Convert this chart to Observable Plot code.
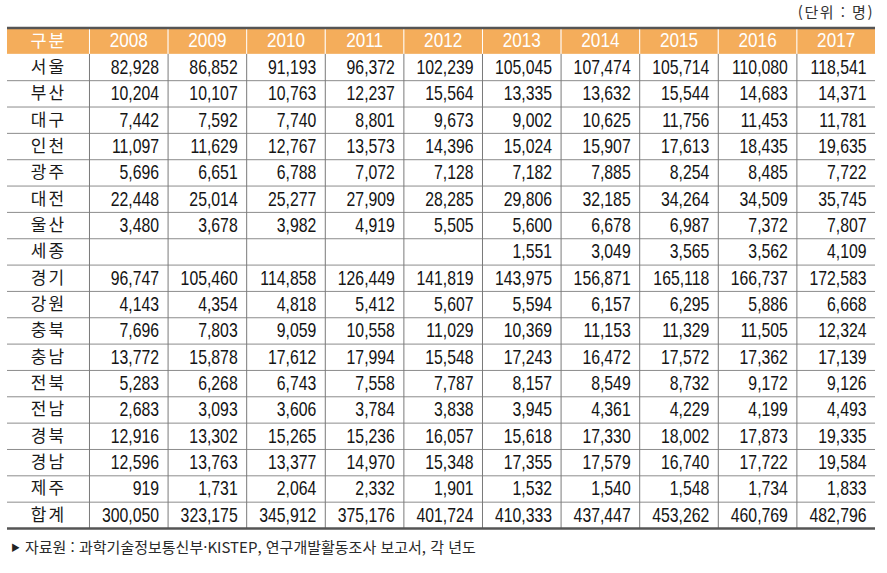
<!DOCTYPE html>
<html lang="ko">
<head>
<meta charset="utf-8">
<script src="https://cdn.jsdelivr.net/npm/d3@7"></script>
<script src="https://cdn.jsdelivr.net/npm/@observablehq/plot@0.6"></script>
<style>
  html, body { margin: 0; padding: 0; background: #fff; }
  #wrap { width: 887px; }
  #unit { height: 26px; line-height: 24px; text-align: right; padding-right: 13px; letter-spacing: 1.5px;
          font-family: "Noto Sans CJK KR", sans-serif; font-size: 15px; color: #333; box-sizing: border-box; }
  #caption { height: 30px; line-height: 30px; padding-left: 11px;
             font-family: "Noto Sans CJK KR", sans-serif; font-size: 15px; color: #2a2a2a; white-space: nowrap; }
  #caption .tri { font-size: 9px; vertical-align: 2px; margin-right: 5px; color: #222; }
</style>
</head>
<body>
<div id="wrap">
  <div id="unit">(단위 : 명)</div>
  <div id="chart"></div>
  <div id="caption"><span class="tri">▶</span>자료원 : 과학기술정보통신부·KISTEP, 연구개발활동조사 보고서, 각 년도</div>
</div>
<script>
// ---- data ----
const headerLabel = "구분";
const years = ["2008", "2009", "2010", "2011", "2012", "2013", "2014", "2015", "2016", "2017"];
const regions = ["서울", "부산", "대구", "인천", "광주", "대전", "울산", "세종", "경기", "강원",
                 "충북", "충남", "전북", "전남", "경북", "경남", "제주", "합계"];
const seoul    = [82928, 86852, 91193, 96372, 102239, 105045, 107474, 105714, 110080, 118541];
const busan    = [10204, 10107, 10763, 12237, 15564, 13335, 13632, 15544, 14683, 14371];
const daegu    = [7442, 7592, 7740, 8801, 9673, 9002, 10625, 11756, 11453, 11781];
const incheon  = [11097, 11629, 12767, 13573, 14396, 15024, 15907, 17613, 18435, 19635];
const gwangju  = [5696, 6651, 6788, 7072, 7128, 7182, 7885, 8254, 8485, 7722];
const daejeon  = [22448, 25014, 25277, 27909, 28285, 29806, 32185, 34264, 34509, 35745];
const ulsan    = [3480, 3678, 3982, 4919, 5505, 5600, 6678, 6987, 7372, 7807];
const sejong   = [null, null, null, null, null, 1551, 3049, 3565, 3562, 4109];
const gyeonggi = [96747, 105460, 114858, 126449, 141819, 143975, 156871, 165118, 166737, 172583];
const gangwon  = [4143, 4354, 4818, 5412, 5607, 5594, 6157, 6295, 5886, 6668];
const chungbuk = [7696, 7803, 9059, 10558, 11029, 10369, 11153, 11329, 11505, 12324];
const chungnam = [13772, 15878, 17612, 17994, 15548, 17243, 16472, 17572, 17362, 17139];
const jeonbuk  = [5283, 6268, 6743, 7558, 7787, 8157, 8549, 8732, 9172, 9126];
const jeonnam  = [2683, 3093, 3606, 3784, 3838, 3945, 4361, 4229, 4199, 4493];
const gyeongbuk= [12916, 13302, 15265, 15236, 16057, 15618, 17330, 18002, 17873, 19335];
const gyeongnam= [12596, 13763, 13377, 14970, 15348, 17355, 17579, 16740, 17722, 19584];
const jeju     = [919, 1731, 2064, 2332, 1901, 1532, 1540, 1548, 1734, 1833];
const total    = [300050, 323175, 345912, 375176, 401724, 410333, 437447, 453262, 460769, 482796];

const rowValues = [seoul, busan, daegu, incheon, gwangju, daejeon, ulsan, sejong, gyeonggi, gangwon,
                   chungbuk, chungnam, jeonbuk, jeonnam, gyeongbuk, gyeongnam, jeju, total];

// ---- build table records ----
const cells = [];
regions.forEach((r, i) => {
  rowValues[i].forEach((v, j) => {
    if (v != null) cells.push({row: i, col: j, value: v});
  });
});
const regionRows = regions.map((r, i) => ({row: i, label: r}));
const yearCols = years.map((y, j) => ({col: j, label: y}));

// layout (column units): first column slightly wider than year columns
const firstColWidth = 1.043;
const nRows = regions.length;
const nCols = years.length;
const fmt = d3.format(",");

const numFont = '"Liberation Sans", Arial, sans-serif';
const korFont = '"Noto Sans CJK KR", "Noto Sans", sans-serif';

const chart = Plot.plot({
  width: 887,
  height: 506,
  margin: 0,
  x: {type: "linear", domain: [-firstColWidth, nCols], range: [7, 875], axis: null},
  y: {type: "linear", domain: [-1, nRows], range: [1.5, 502], axis: null},
  style: {background: "#fff", overflow: "visible"},
  marks: [
    // header background
    Plot.rect([headerLabel, ...years], {
      x1: (d, i) => i === 0 ? -firstColWidth : i - 1,
      x2: (d, i) => i,
      y1: () => -1, y2: () => 0,
      fill: "#F4AD5B", inset: 0
    }),
    // horizontal separators between body rows
    Plot.ruleY(d3.range(1, nRows), {x1: -firstColWidth, x2: nCols, stroke: "#8c8c8c", strokeWidth: 1}),
    // vertical separators, body
    Plot.ruleX(d3.range(0, nCols), {y1: 0, y2: nRows, stroke: "#7a7a7a", strokeWidth: 1}),
    // vertical separators, header (white)
    Plot.ruleX(d3.range(0, nCols), {y1: -1, y2: 0, stroke: "#ffffff", strokeWidth: 1}),
    // top and bottom borders
    Plot.ruleY([-1, nRows], {x1: -firstColWidth, x2: nCols, stroke: "#555555", strokeWidth: 2.5}),
    // header texts (text group 0)
    Plot.text([headerLabel], {
      x: () => -firstColWidth / 2, y: () => -0.5, text: d => d,
      fill: "#ffffff", fontSize: 17.5, fontFamily: korFont
    }),
    // year labels (text group 1)
    Plot.text(yearCols, {
      x: d => d.col + 0.5, y: () => -0.5, text: "label",
      fill: "#ffffff", fontSize: 19.5, fontFamily: numFont
    }),
    // region labels (text group 2)
    Plot.text(regionRows, {
      x: () => -firstColWidth / 2, y: d => d.row + 0.5, text: "label",
      fill: "#1a1a1a", fontSize: 17, fontFamily: korFont
    }),
    // values (text group 3)
    Plot.text(cells, {
      x: d => d.col + 1, y: d => d.row + 0.5, text: d => fmt(d.value),
      textAnchor: "end", dx: -9,
      fill: "#141414", fontSize: 20, fontFamily: numFont
    })
  ]
});

// post-styling: the source uses a narrow typeface and spaced Korean labels
const textGroups = chart.querySelectorAll('g[aria-label="text"]');
function condense(group, sx) {
  if (!group) return;
  group.querySelectorAll("text").forEach(el => {
    const t = el.getAttribute("transform") || "";
    el.setAttribute("transform", `${t} scale(${sx},1)`);
  });
}
function spaced(group, px) {
  if (!group) return;
  group.querySelectorAll("text").forEach(el => { el.style.letterSpacing = px + "px"; });
}
spaced(textGroups[0], 2);
condense(textGroups[1], 0.88);
spaced(textGroups[2], 2);
condense(textGroups[3], 0.79);

document.getElementById("chart").appendChild(chart);
</script>
</body>
</html>
